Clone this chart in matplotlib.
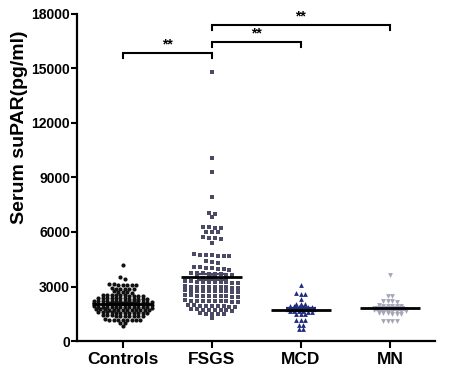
import numpy as np
import matplotlib
matplotlib.use("Agg")
import matplotlib.pyplot as plt

plt.rcParams['font.family'] = ['Liberation Sans', 'DejaVu Sans']

groups = ['Controls', 'FSGS', 'MCD', 'MN']

controls = [
    4180, 3520, 3440,
    3140, 3120, 3110, 3100, 3090, 3070, 3060,
    2910, 2890, 2880, 2870, 2860, 2840,
    2730, 2710, 2700, 2690, 2670,
    2560, 2540, 2530, 2520, 2520, 2510, 2500, 2490, 2480, 2470,
    2390, 2380, 2370, 2360, 2360, 2350, 2350, 2340, 2340, 2330, 2320, 2310,
    2230, 2220, 2220, 2210, 2200, 2200, 2200, 2190, 2190, 2180, 2180, 2170, 2160, 2150,
    2070, 2060, 2060, 2050, 2050, 2040, 2040, 2040, 2030, 2030, 2020, 2020, 2010, 2000,
    1910, 1900, 1900, 1890, 1890, 1880, 1880, 1880, 1870, 1870, 1860, 1860, 1850, 1840,
    1750, 1740, 1740, 1730, 1730, 1720, 1720, 1720, 1710, 1710, 1700, 1700, 1690,
    1590, 1580, 1580, 1570, 1560, 1560, 1550, 1550, 1540, 1540, 1530, 1520,
    1430, 1420, 1410, 1400, 1400, 1400, 1390, 1390, 1380, 1370,
    1190, 1180, 1170, 1160, 1160, 1150, 1150, 1140, 1130,
    990, 970, 850]

fsgs = [
    14800, 10050, 9300, 7950,
    7050, 6980, 6820,
    6300, 6270, 6240, 6210,
    6020, 6000, 5980,
    5720, 5690, 5660, 5630,
    5390,
    4780, 4760, 4740, 4720, 4700, 4680, 4660,
    4380, 4340, 4320,
    4070, 4050, 4030, 4000, 3980, 3960, 3930,
    3760, 3740, 3720, 3710, 3690, 3670, 3650, 3630,
    3500, 3480, 3470, 3450, 3430, 3410,
    3290, 3280, 3270, 3260, 3250, 3250, 3240, 3230, 3220, 3210,
    3010, 3000, 2990, 2980, 2970, 2970, 2960, 2950, 2940, 2930,
    2790, 2780, 2770, 2760, 2750, 2750, 2740, 2730, 2720, 2710,
    2520, 2510, 2500, 2490, 2480, 2480, 2470, 2460, 2450, 2440,
    2240, 2230, 2220, 2210, 2200, 2200, 2190, 2180, 2170, 2160,
    1970, 1960, 1950, 1940, 1930, 1920, 1910, 1900, 1890,
    1750, 1740, 1730, 1720, 1710, 1700, 1690, 1680,
    1520, 1500, 1490, 1480, 1470,
    1290]

mcd = [
    3080,
    2640, 2610, 2590,
    2310,
    2060, 2050, 2040,
    1920, 1910, 1900, 1890, 1880, 1870,
    1790, 1780, 1780, 1770, 1770, 1760, 1750,
    1650, 1640, 1640, 1630, 1620, 1610,
    1500, 1490, 1480,
    1160, 1150, 1140,
    890, 870,
    670, 650]

mn = [
    3630,
    2490, 2470,
    2220, 2200, 2180, 2160,
    1960, 1950, 1940, 1930, 1920, 1910,
    1820, 1810, 1800, 1800, 1790, 1780, 1770, 1760,
    1690, 1680, 1680, 1670, 1660, 1650, 1640, 1630,
    1540, 1530, 1520, 1510, 1500, 1490,
    1120, 1110, 1100, 1090]

# significance brackets: (left group, right group, height)
sig = [(0, 1, 15850), (1, 2, 16470), (1, 3, 17390)]

data = [controls, fsgs, mcd, mn]
colors = ['#111111', '#4a4a64', '#1f2b7b', '#a5a5b8']
markers = ['o', 's', '^', 'v']
sizes = [9, 10, 12, 12]
dxs = [0.05, 0.066, 0.05, 0.05]
binhs = [110, 150, 80, 80]


def row_offsets(vals, binh, dx):
    # graphpad-like layout: group close values into rows, spread rows sideways
    vals = np.asarray(vals, float)
    order = np.argsort(-vals, kind='stable')
    xs = np.zeros(len(vals))
    rows, cur, top = [], [], None
    for i in order:
        if top is None or top - vals[i] > binh:
            if cur:
                rows.append(cur)
            cur, top = [i], vals[i]
        else:
            cur.append(i)
    rows.append(cur)
    for r in rows:
        n = len(r)
        offs = (np.arange(n) - (n - 1) / 2) * dx
        for j, i in enumerate(r):
            xs[i] = offs[j]
    return xs


fig = plt.figure(figsize=(4.52, 3.76), dpi=100)
ax = fig.add_axes([0.17, 0.093, 0.792, 0.870])

for k, vals in enumerate(data):
    v = np.asarray(vals, float)
    xs = k + row_offsets(v, binhs[k], dxs[k])
    ax.scatter(xs, v, s=sizes[k], marker=markers[k], color=colors[k],
               linewidths=0, zorder=3)
    m = v.mean()
    sem = v.std(ddof=1) / np.sqrt(len(v))
    ax.errorbar(k, m, yerr=sem, color=colors[k], capsize=11, capthick=1.6,
                elinewidth=1.2, zorder=4)
    ax.hlines(m, k - 0.34, k + 0.34, color='black', lw=2, zorder=5)

for a, b, h in sig:
    ax.plot([a, a, b, b], [h - 280, h, h, h - 280], color='black', lw=1.5,
            solid_joinstyle='miter', clip_on=False)
    ax.text((a + b) / 2, h + 60, '**', ha='center', va='bottom',
            fontsize=10, fontweight='bold')

ax.set_xlim(-0.514, 3.503)
ax.set_ylim(0, 18000)
ax.set_yticks(np.arange(0, 18001, 3000))
ax.set_xticks(range(len(groups)))
ax.set_xticklabels(groups, fontsize=12.5, fontweight='bold')
for t in ax.get_yticklabels():
    t.set_fontweight('bold')
    t.set_fontsize(10)
ax.set_ylabel('Serum suPAR(pg/ml)', fontsize=14, fontweight='bold')
ax.yaxis.set_label_coords(-0.137, 0.654)

for s in ['top', 'right']:
    ax.spines[s].set_visible(False)
for s in ['left', 'bottom']:
    ax.spines[s].set_linewidth(1.6)
ax.tick_params(axis='y', direction='out', length=4, width=1.5, pad=0.8)
ax.tick_params(axis='x', direction='out', length=5, width=1.5, pad=3)

fig.savefig('out.png', dpi=100)
